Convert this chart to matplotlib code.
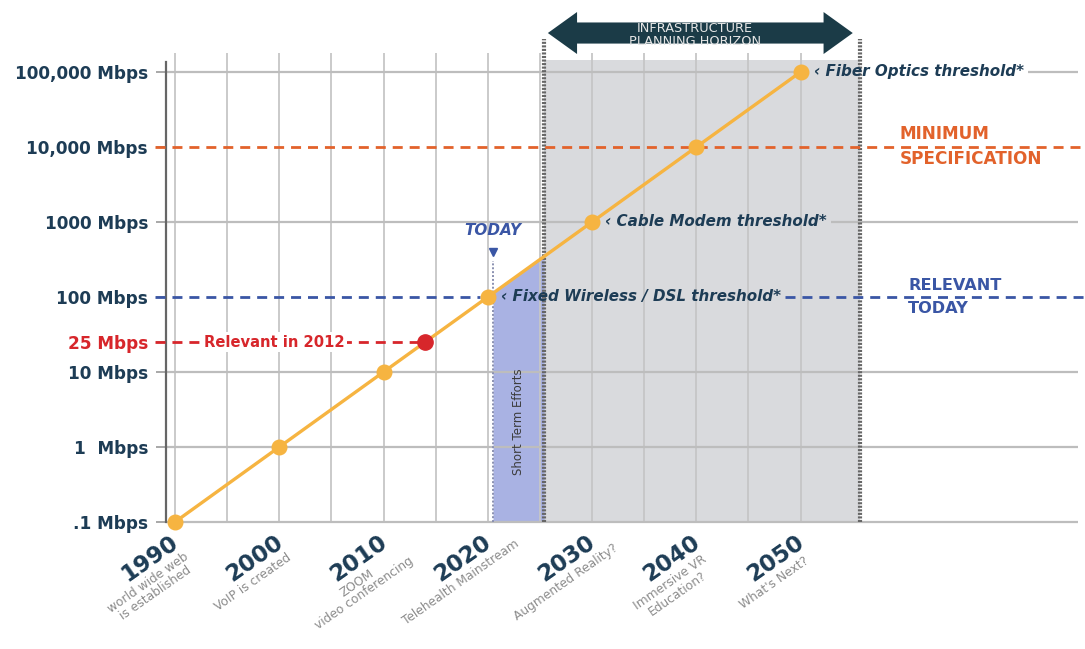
import matplotlib
matplotlib.use('Agg')
import matplotlib.pyplot as plt
import numpy as np
from matplotlib.patches import Polygon

# ---------------- data ----------------
years = [1990, 2000, 2010, 2020, 2030, 2040, 2050]
speeds = [0.1, 1, 10, 100, 1000, 10000, 100000]
year_notes = ["world wide web\nis established", "VoIP is created", "ZOOM\nvideo conferencing",
              "Telehealth Mainstream", "Augmented Reality?", "Immersive VR\nEducation?", "What's Next?"]
ytick_vals = [0.1, 1, 10, 25, 100, 1000, 10000, 100000]
ytick_labels = ['.1 Mbps', '1  Mbps', '10 Mbps', '25 Mbps', '100 Mbps', '1000 Mbps',
                '10,000 Mbps', '100,000 Mbps']
grid_years = list(range(1990, 2051, 5))
grid_decades = [0.1, 1, 10, 1000, 100000]

threshold_years = [2050, 2030, 2020]
threshold_speeds = [100000, 1000, 100]
threshold_labels = ['Fiber Optics threshold*', 'Cable Modem threshold*', 'Fixed Wireless / DSL threshold*']

relevant_2012_year = 2014
relevant_2012_speed = 25
today_year = 2020.5
horizon_start = 2025.4
horizon_end = 2055.7
min_spec = 10000
relevant_today = 100

# ---------------- style ----------------
NAVY = '#1d3c55'
ORANGE_LINE = '#f6b441'
ORANGE = '#e2622b'
BLUE = '#3a56a5'
RED = '#d7262b'
GRAY_REGION = '#d9dadd'
BLUE_REGION = '#a9b2e3'
GRID = '#bdbdbd'
DESC = '#8c8c8c'

plt.rcParams['font.family'] = ['DejaVu Sans']

W, H = 1085, 649
fig = plt.figure(figsize=(W / 100, H / 100), dpi=100)
ax = fig.add_axes([166 / W, 1 - 522 / H, (1078 - 166) / W, (522 - 53) / H])
ax.set_yscale('log')
ax.set_ylim(0.1, 1.79e5)
ax.set_xlim(1989.14, 2076.6)
xl0, xl1 = ax.get_xlim()
xr = xl1 - xl0
x_left = xl0 - 0.012 * xr
x_right = xl1 + 0.012 * xr

for s in ['top', 'right', 'bottom']:
    ax.spines[s].set_visible(False)
ax.spines['left'].set_color('#666666')
ax.spines['left'].set_linewidth(1.6)
ax.spines['left'].set_bounds(0.1, 1.36e5)

ax.set_xticks([])
ax.set_yticks(ytick_vals)
ax.set_yticklabels(ytick_labels)
ax.minorticks_off()
ax.tick_params(axis='y', which='both', length=7, width=1.2, color='#9a9a9a', pad=6)
ax.yaxis.set_minor_locator(matplotlib.ticker.NullLocator())
for lab in ax.get_yticklabels():
    lab.set_fontsize(12.2)
    lab.set_fontweight('heavy')
    lab.set_color(NAVY)
ax.get_yticklabels()[ytick_vals.index(25)].set_color(RED)

xt = ax.get_xaxis_transform()

# regions
ax.axvspan(horizon_start, horizon_end, ymin=0, ymax=0.985, color=GRAY_REGION, zorder=0, lw=0)
logx = np.log10(speeds)
fx = [today_year, horizon_start]
fy = [10 ** np.interp(v, years, logx) for v in fx]
ax.fill_between(fx, [0.1, 0.1], fy, color=BLUE_REGION, lw=0, zorder=0.5)

# vertical grid
ax.vlines(grid_years, 0, 1, transform=xt, color='#c6c6c6', lw=1.3, zorder=1)

# threshold labels
tlabels = []
for yr, sp, lab in zip(threshold_years, threshold_speeds, threshold_labels):
    t = ax.annotate('‹ ' + lab, xy=(yr, sp), xytext=(9.4, 0), textcoords='offset points',
                    ha='left', va='center', fontsize=10.9, fontweight='bold', fontstyle='italic',
                    color=NAVY, zorder=7)
    tlabels.append(t)

fig.canvas.draw()
renderer = fig.canvas.get_renderer()
inv = ax.transData.inverted()
label_end = {}
for t, sp, yr in zip(tlabels, threshold_speeds, threshold_years):
    bb = t.get_window_extent(renderer)
    label_end[sp] = (yr, inv.transform((bb.x1 + 4, bb.y0))[0])

# horizontal grid
for d in grid_decades:
    if d in label_end:
        yr, xe = label_end[d]
        ax.hlines(d, xl0, yr, color=GRID, lw=1.6, zorder=1, clip_on=False)
        ax.hlines(d, xe, xl1, color=GRID, lw=1.6, zorder=1, clip_on=False)
    else:
        ax.hlines(d, xl0, xl1, color=GRID, lw=1.6, zorder=1, clip_on=False)

# dashed reference lines
ax.plot([x_left, x_right], [min_spec, min_spec], color=ORANGE, lw=2, dashes=(3.6, 2.5),
        clip_on=False, zorder=3)
ax.plot([x_left, 2019.3], [relevant_today] * 2, color=BLUE, lw=2, dashes=(3.6, 2.5),
        clip_on=False, zorder=3)
ax.plot([label_end[100][1], x_right], [relevant_today] * 2, color=BLUE, lw=2, dashes=(3.6, 2.5),
        clip_on=False, zorder=3)
ax.plot([x_left, relevant_2012_year], [relevant_2012_speed] * 2, color=RED, lw=2,
        dashes=(3.6, 2.5), clip_on=False, zorder=3)
ax.text(1992.8, relevant_2012_speed, 'Relevant in 2012', ha='left', va='center', fontsize=10.6,
        fontweight='bold', color=RED, zorder=4,
        bbox=dict(boxstyle='square,pad=0.15', fc='white', ec='none'))

# dotted horizon borders
for xv in [horizon_start, horizon_end]:
    ax.plot([xv, xv], [0, 1.03], transform=xt, color='#666666', lw=3, dashes=(0.5, 0.35),
            clip_on=False, zorder=2)

# today marker
ax.plot([today_year, today_year], [0.1, 300], color='#8a90b0', lw=1.4, dashes=(1, 1), zorder=2)
ax.plot([today_year], [400], marker='v', color=BLUE, ms=6, zorder=6)
ax.text(today_year, 760, 'TODAY', ha='center', va='center', fontsize=11, fontweight='bold',
        fontstyle='italic', color=BLUE)
ax.text((today_year + horizon_start) / 2, 2.2, 'Short Term Efforts', rotation=90, ha='center',
        va='center', fontsize=8.5, color='#3c3c3c', zorder=4)

# main line
ax.plot(years, speeds, color=ORANGE_LINE, lw=2.4, marker='o', ms=10.5, zorder=5, clip_on=False)
ax.plot([relevant_2012_year], [relevant_2012_speed], 'o', color=RED, ms=11, zorder=6)

# right-side labels
ax.annotate('MINIMUM', xy=(2059.5, min_spec), xytext=(0, 9.4), textcoords='offset points',
            ha='left', va='center', fontsize=12.2, fontweight='bold', color=ORANGE)
ax.annotate('SPECIFICATION', xy=(2059.5, min_spec), xytext=(0, -8.6), textcoords='offset points',
            ha='left', va='center', fontsize=12.2, fontweight='bold', color=ORANGE)
ax.annotate('RELEVANT', xy=(2060.3, relevant_today), xytext=(0, 8.6), textcoords='offset points',
            ha='left', va='center', fontsize=11.6, fontweight='bold', color=BLUE)
ax.annotate('TODAY', xy=(2060.3, relevant_today), xytext=(0, -8.6), textcoords='offset points',
            ha='left', va='center', fontsize=11.6, fontweight='bold', color=BLUE)

# top arrow
a0, a1 = 2025.76, 2055.0
hl = 2.8
yc, bw, hw = 1.0426, 0.0225, 0.0448
pts = [(a0, yc), (a0 + hl, yc + hw), (a0 + hl, yc + bw), (a1 - hl, yc + bw), (a1 - hl, yc + hw),
       (a1, yc), (a1 - hl, yc - hw), (a1 - hl, yc - bw), (a0 + hl, yc - bw), (a0 + hl, yc - hw)]
ax.add_patch(Polygon(pts, closed=True, transform=xt, fc='#1b3b47', ec='none', clip_on=False,
                     zorder=6))
ax.text((a0 + a1) / 2 - 0.5, yc - 0.004, 'INFRASTRUCTURE\nPLANNING HORIZON', transform=xt,
        ha='center', va='center', fontsize=9.3, color='#e6e6e6', linespacing=1.05, zorder=7)

# x labels (rotated)
px2pt = 72 / 100
for yr, note in zip(years, year_notes):
    ax.annotate(str(yr), xy=(yr, 0), xycoords=xt, xytext=(-25 * px2pt, -36 * px2pt),
                textcoords='offset points', rotation=35, rotation_mode='anchor', ha='center',
                va='center', fontsize=16.5, fontweight='heavy', color=NAVY, annotation_clip=False)
    ax.annotate(note, xy=(yr, 0), xycoords=xt, xytext=(-30.4 * px2pt, -55.4 * px2pt),
                textcoords='offset points', rotation=35, rotation_mode='anchor', ha='center',
                va='top', multialignment='center', fontsize=8.8, color=DESC, linespacing=1.0,
                annotation_clip=False)

fig.savefig('out.png', dpi=100)
